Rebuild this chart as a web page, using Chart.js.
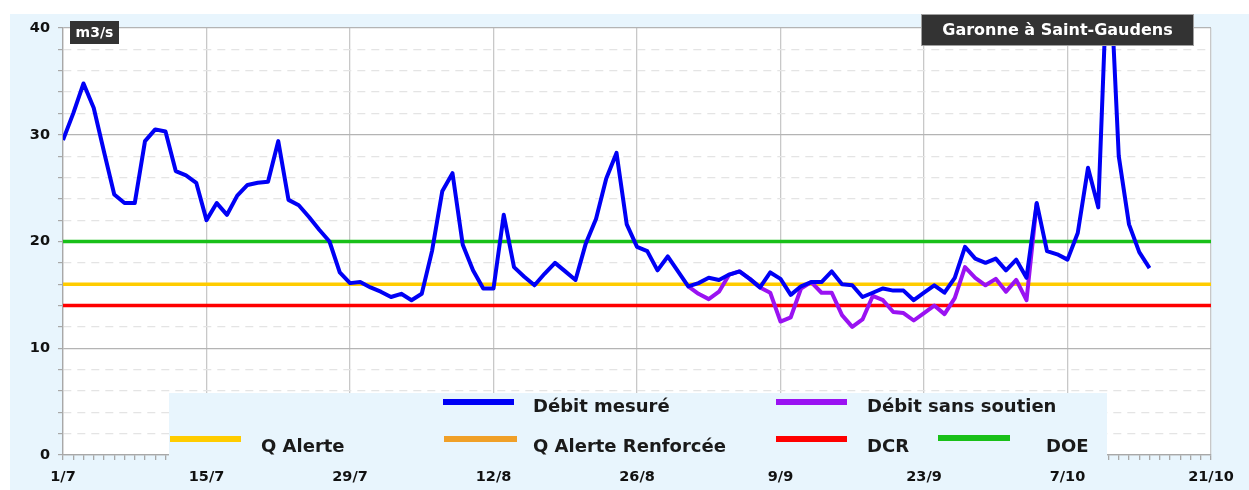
<!DOCTYPE html>
<html>
<head>
<meta charset="utf-8">
<script src="https://cdn.jsdelivr.net/npm/chart.js@4.4.0/dist/chart.umd.min.js"></script>
<style>
  html, body { margin: 0; padding: 0; background: #fff; }
  #cadre { width: 1249px; height: 490px; }
</style>
</head>
<body>
<div id="cadre"><canvas id="graphique"></canvas></div>
<script>
// étiquettes de l'axe des dates, une tous les 14 jours à partir du 1/7
const jours = ['1/7', '15/7', '29/7', '12/8', '26/8', '9/9', '23/9', '7/10', '21/10'];
const pasJours = 14;

// débit mesuré, un point par jour depuis le 1/7 (m3/s)
const debitMesure = [
  29.5, 32.0, 34.8, 32.5, 28.4, 24.4, 23.6, 23.6, 29.4, 30.5,
  30.3, 26.6, 26.2, 25.5, 22.0, 23.6, 22.5, 24.3, 25.3, 25.5,
  25.6, 29.4, 23.9, 23.4, 22.3, 21.1, 20.0, 17.1, 16.1, 16.2,
  15.7, 15.3, 14.8, 15.1, 14.5, 15.1, 19.1, 24.7, 26.4, 19.7,
  17.3, 15.6, 15.6, 22.5, 17.6, 16.7, 15.9, 17.0, 18.0, 17.2,
  16.4, 19.8, 22.1, 25.9, 28.3, 21.6, 19.5, 19.1, 17.3, 18.6,
  17.2, 15.8, 16.1, 16.6, 16.4, 16.9, 17.2, 16.5, 15.7, 17.1,
  16.5, 15.0, 15.8, 16.2, 16.2, 17.2, 16.0, 15.9, 14.8, 15.2,
  15.6, 15.4, 15.4, 14.5, 15.2, 15.9, 15.2, 16.6, 19.5, 18.4,
  18.0, 18.4, 17.3, 18.3, 16.6, 23.6, 19.1, 18.8, 18.3, 20.8,
  26.9, 23.2, 48.5, 28.0, 21.6, 19.0, 17.5
];

// débit sans soutien d'étiage, commence au jour 61 (31/8)
const debutSansSoutien = 61;
const debitSansSoutien = [
  15.8, 15.1, 14.6, 15.3, 16.9, 17.2, 16.5, 15.7, 15.2, 12.5,
  12.9, 15.6, 16.2, 15.2, 15.2, 13.1, 12.0, 12.7, 14.9, 14.5,
  13.4, 13.3, 12.6, 13.3, 14.0, 13.2, 14.7, 17.6, 16.6, 15.9,
  16.5, 15.3, 16.4, 14.5, 23.6
];

// seuils réglementaires
const DOE = 20;
const Q_ALERTE = 16;
const DCR = 14;

const finAxe = (jours.length - 1) * pasJours;
const enPoints = (vals, debut) => vals.map((v, i) => ({ x: debut + i, y: v }));
const seuil = v => [{ x: 0, y: v }, { x: finAxe, y: v }];

const FOND = '#e8f5fd';
const POLICE = '"DejaVu Sans", Verdana, sans-serif';

// position des entrées de la légende
const legende = [
  { label: 'Débit mesuré',       x1: 443, x2: 514, ly: 402, tx: 533, ty: 407 },
  { label: 'Débit sans soutien', x1: 776, x2: 847, ly: 402, tx: 867, ty: 407 },
  { label: 'Q Alerte',           x1: 170, x2: 241, ly: 439, tx: 261, ty: 447 },
  { label: 'Q Alerte Renforcée', x1: 444, x2: 517, ly: 439, tx: 533, ty: 447 },
  { label: 'DCR',                x1: 776, x2: 847, ly: 439, tx: 867, ty: 447 },
  { label: 'DOE',                x1: 938, x2: 1010, ly: 438, tx: 1046, ty: 447 }
];

const habillage = {
  id: 'habillage',
  beforeDraw(chart) {
    const { ctx, width, height, chartArea: a } = chart;
    ctx.save();
    ctx.fillStyle = '#fff';
    ctx.fillRect(0, 0, width, height);
    ctx.fillStyle = FOND;
    ctx.fillRect(10, 14, width - 10, height - 14);
    ctx.fillStyle = '#fff';
    ctx.fillRect(a.left, a.top, a.right - a.left, a.bottom - a.top);
    ctx.restore();
  },
  afterDraw(chart) {
    const ctx = chart.ctx;
    ctx.save();

    // cadre de la légende posé sur le bas du graphique
    ctx.fillStyle = FOND;
    ctx.fillRect(169, 393, 938, 69);
    legende.forEach(item => {
      const ds = chart.data.datasets.find(d => d.label === item.label);
      ctx.strokeStyle = ds.borderColor;
      ctx.lineWidth = 6;
      ctx.beginPath();
      ctx.moveTo(item.x1, item.ly);
      ctx.lineTo(item.x2, item.ly);
      ctx.stroke();
      ctx.fillStyle = '#1a1a1a';
      ctx.font = 'bold 18px ' + POLICE;
      ctx.textAlign = 'left';
      ctx.textBaseline = 'middle';
      ctx.fillText(item.label, item.tx, item.ty);
    });

    // unité
    ctx.fillStyle = '#333';
    ctx.fillRect(70, 21, 49, 23);
    ctx.fillStyle = '#fff';
    ctx.font = 'bold 14px ' + POLICE;
    ctx.textAlign = 'center';
    ctx.fillText('m3/s', 94.5, 33);

    // nom de la station
    ctx.fillStyle = '#333';
    ctx.fillRect(922, 15, 271, 30);
    ctx.strokeStyle = '#a0a0a0';
    ctx.lineWidth = 1;
    ctx.strokeRect(921.5, 14.5, 272, 31);
    ctx.fillStyle = '#fff';
    ctx.font = 'bold 16px ' + POLICE;
    ctx.fillText('Garonne à Saint-Gaudens', 1057.5, 30.5);

    ctx.restore();
  }
};

const ligne = (label, data, couleur, epaisseur) => ({
  label: label,
  data: data,
  borderColor: couleur,
  borderWidth: epaisseur,
  pointRadius: 0,
  tension: 0,
  fill: false,
  borderJoinStyle: 'round'
});

new Chart(document.getElementById('graphique'), {
  type: 'line',
  data: {
    datasets: [
      ligne('Débit mesuré', enPoints(debitMesure, 0), '#0000f5', 4),
      ligne('Débit sans soutien', enPoints(debitSansSoutien, debutSansSoutien), '#9a12f2', 4),
      ligne('DOE', seuil(DOE), '#19c019', 3.5),
      ligne('Q Alerte', seuil(Q_ALERTE), '#ffcc00', 3.5),
      ligne('DCR', seuil(DCR), '#ff0000', 3.5),
      ligne('Q Alerte Renforcée', [], '#f0a028', 3.5)
    ]
  },
  options: {
    responsive: true,
    maintainAspectRatio: false,
    animation: false,
    layout: { padding: { top: 28, right: 38, left: 0, bottom: 0 } },
    plugins: { legend: { display: false }, tooltip: { enabled: false } },
    scales: {
      x: {
        type: 'linear',
        min: 0,
        max: finAxe,
        afterFit: s => { s.height = 35; },
        ticks: {
          stepSize: 1,
          autoSkip: false,
          maxRotation: 0,
          padding: 9,
          color: '#111',
          font: { family: POLICE, size: 14.5, weight: 'bold' },
          callback: v => (v % pasJours === 0 ? jours[v / pasJours] : '')
        },
        grid: {
          color: c => (c.tick && c.tick.value % pasJours === 0 ? '#c8c8c8' : 'rgba(0,0,0,0)'),
          lineWidth: 1.3,
          tickColor: '#a8a8a8',
          tickLength: 5
        },
        border: { color: '#a8a8a8', width: 1.3 }
      },
      y: {
        min: 0,
        max: 40,
        afterFit: s => { s.width = 63; },
        ticks: {
          stepSize: 2,
          padding: 8,
          color: '#111',
          font: { family: POLICE, size: 14.5, weight: 'bold' },
          callback: v => (v % 10 === 0 ? v : '')
        },
        grid: {
          color: c => (c.tick && c.tick.value % 10 === 0 ? '#b4b4b4' : '#e4e4e4'),
          lineWidth: 1.2,
          tickColor: '#a8a8a8',
          tickLength: 5
        },
        border: {
          color: '#a8a8a8',
          width: 1.3,
          dash: c => (c.tick && c.tick.value % 10 !== 0 ? [8, 6] : [])
        }
      }
    }
  },
  plugins: [habillage]
});
</script>
</body>
</html>
